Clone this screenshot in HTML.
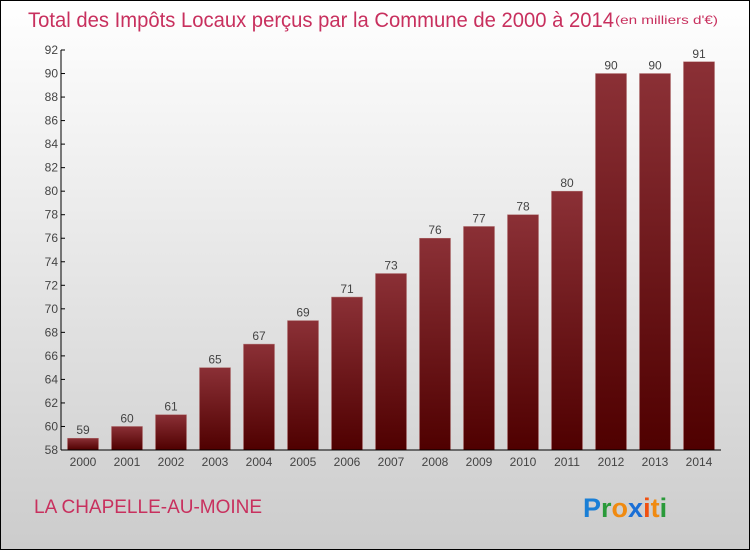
<!DOCTYPE html>
<html><head><meta charset="utf-8"><style>
body{margin:0}
svg{display:block;font-family:"Liberation Sans",sans-serif}
</style></head><body>
<svg id="c" width="750" height="550" xmlns="http://www.w3.org/2000/svg">
<defs>
<linearGradient id="bg" x1="0" y1="0" x2="0" y2="1"><stop offset="0" stop-color="#ffffff"/><stop offset="1" stop-color="#cccccc"/></linearGradient>
<linearGradient id="bar" x1="0" y1="0" x2="0" y2="1"><stop offset="0" stop-color="#8b3036"/><stop offset="1" stop-color="#4f0000"/></linearGradient>
</defs>
<rect x="0.5" y="0.5" width="749" height="549" fill="url(#bg)" stroke="#000"/>
<text x="28" y="27" font-size="21" fill="#c8305e" textLength="586" lengthAdjust="spacingAndGlyphs">Total des Impôts Locaux perçus par la Commune de 2000 à 2014</text>
<text x="615" y="24" font-size="12" fill="#c8305e" textLength="103" lengthAdjust="spacingAndGlyphs">(en milliers d'€)</text>
<g id="plot"></g>
<text x="34" y="513" font-size="19" fill="#c8305e">LA CHAPELLE-AU-MOINE</text>
<text x="583" y="517" font-size="27" font-weight="bold"><tspan fill="#1a7fd6">P</tspan><tspan fill="#2a9a3a">r</tspan><tspan fill="#f08a10">o</tspan><tspan fill="#1a6fd6">x</tspan><tspan fill="#f05010">i</tspan><tspan fill="#f08a10">t</tspan><tspan fill="#2a9a3a">i</tspan></text>
</svg>
<script>
const years=["2000","2001","2002","2003","2004","2005","2006","2007","2008","2009","2010","2011","2012","2013","2014"];
const values=[59,60,61,65,67,69,71,73,76,77,78,80,90,90,91];
const yTicks=[58,60,62,64,66,68,70,72,74,76,78,80,82,84,86,88,90,92];
(function(){
const NS="http://www.w3.org/2000/svg";
const g=document.getElementById('plot');
const yMin=58,yMax=92,pTop=50,pBot=450,pLeft=61,pRight=721;
const y=v=>pBot-(v-yMin)/(yMax-yMin)*(pBot-pTop);
const step=(pRight-pLeft)/years.length;
const x=i=>pLeft+step*(i+0.5);
function mk(t,a){const e=document.createElementNS(NS,t);for(const k in a)e.setAttribute(k,a[k]);g.appendChild(e);return e;}
values.forEach((v,i)=>{
 const bw=31;
 const r=mk('rect',{x:x(i)-bw/2,y:y(v),width:bw,height:pBot-y(v),fill:'url(#bar)',stroke:'#b07070','stroke-width':0.5});
 
 
 const t=mk('text',{x:x(i),y:y(v)-4,'font-size':12,fill:'#444','text-anchor':'middle'});t.textContent=v;
 
 
 const xl=mk('text',{x:x(i),y:pBot+16,'font-size':12,fill:'#444','text-anchor':'middle'});xl.textContent=years[i];
 
 
});
yTicks.forEach(v=>{
 const l=mk('line',{x1:pLeft,x2:pLeft+4,y1:y(v),y2:y(v),stroke:'#000'});
 
 
 const t=mk('text',{x:pLeft-3,y:y(v)+4,'font-size':12,fill:'#444','text-anchor':'end'});t.textContent=v;
 
 
});
const ya=mk('line',{x1:pLeft,x2:pLeft,y1:pTop,y2:pBot,stroke:'#000'});


const xa=mk('line',{x1:pLeft,x2:pRight,y1:pBot,y2:pBot,stroke:'#000'});


})();
</script>
</body></html>
